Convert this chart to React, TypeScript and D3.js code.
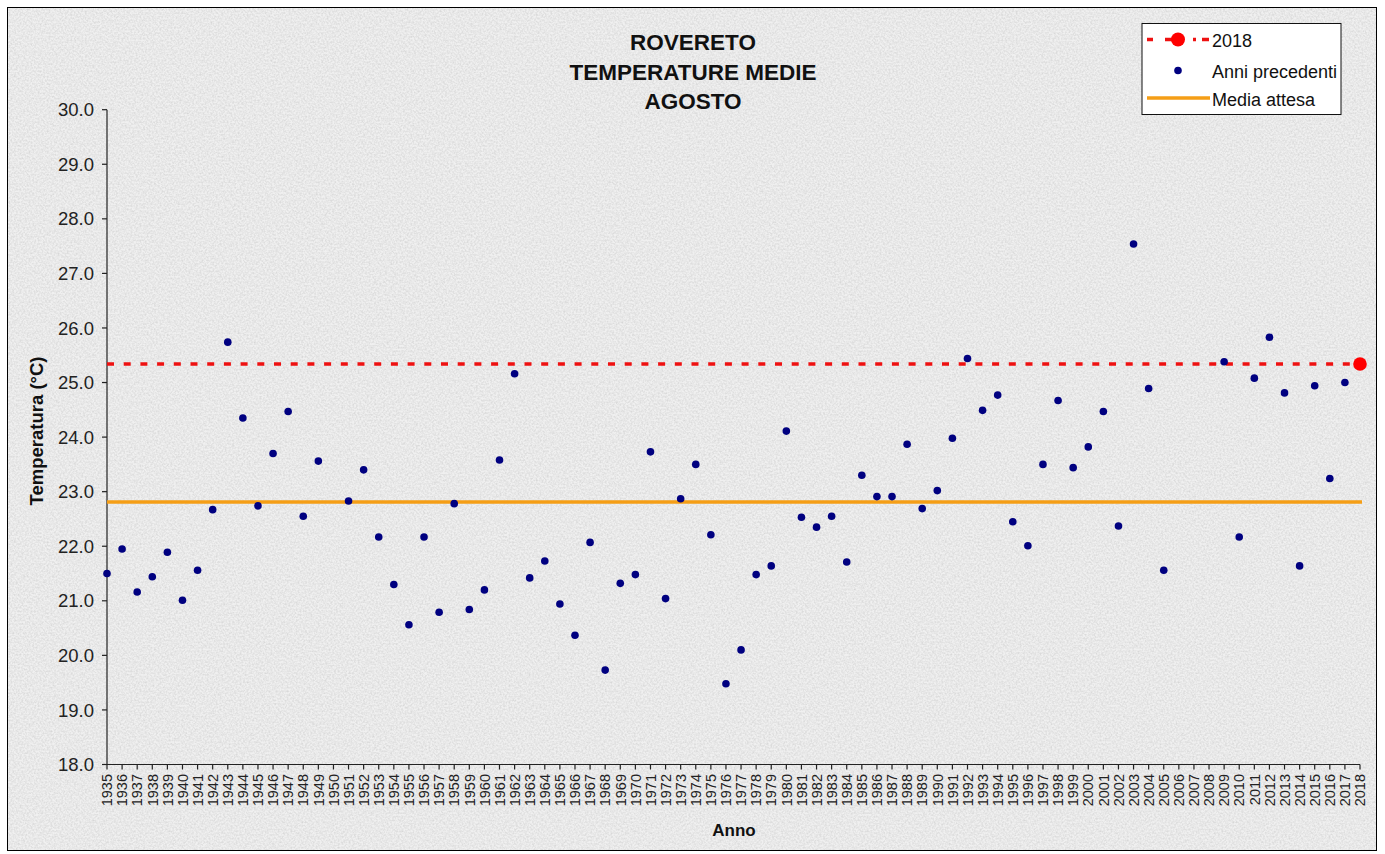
import React from "react";
import * as d3 from "d3";

const years: string[] = d3.range(1935, 2019).map((y) => String(y));
const prevTemps: (number | null)[] = [
  21.50, 21.95, 21.16, 21.44, 21.89, 21.01, 21.56, 22.67, 25.74, 24.35, // 1935-1944
  22.74, 23.70, 24.47, 22.55, 23.56, null, 22.83, 23.40, 22.17, 21.30, // 1945-1954
  20.56, 22.17, 20.79, 22.78, 20.84, 21.20, 23.58, 25.16, 21.42, 21.73, // 1955-1964
  20.94, 20.37, 22.07, 19.73, 21.32, 21.48, 23.73, 21.04, 22.87, 23.50, // 1965-1974
  22.21, 19.48, 20.10, 21.48, 21.64, 24.11, 22.53, 22.35, 22.55, 21.71, // 1975-1984
  23.30, 22.91, 22.91, 23.87, 22.69, 23.02, 23.98, 25.44, 24.49, 24.77, // 1985-1994
  22.45, 22.01, 23.50, 24.67, 23.44, 23.82, 24.47, 22.37, 27.54, 24.89, // 1995-2004
  21.56, null, null, null, 25.38, 22.17, 25.08, 25.83, 24.81, 21.64, // 2005-2014
  24.94, 23.24, 25.00, null, // 2015-2018
];
const value2018 = 25.34;
const mediaAttesa = 22.81;
const yTicks: number[] = d3.range(18, 30.001, 1);
const titleLines: string[] = ["ROVERETO", "TEMPERATURE MEDIE", "AGOSTO"];
const legendLabels: string[] = ["2018", "Anni precedenti", "Media attesa"];

const FONT = "'Liberation Sans', Arial, sans-serif";

export default function App() {
  const W = 1385;
  const H = 854;
  const x = d3.scalePoint<string>().domain(years).range([107, 1360]).padding(0);
  const y = d3.scaleLinear().domain([18, 30]).range([764.5, 109.7]);
  const x0 = x(years[0]) as number;
  const x1 = x(years[years.length - 1]) as number;
  const pts = years
    .map((yr, i) => ({ yr, v: prevTemps[i] }))
    .filter((d) => d.v !== null) as { yr: string; v: number }[];

  return (
    <svg
      width={W}
      height={H}
      style={{ position: "absolute", left: 0, top: 0 }}
      fontFamily={FONT}
    >
      <defs>
        <filter id="noise" x="0" y="0" width="100%" height="100%">
          <feTurbulence type="fractalNoise" baseFrequency="0.55" numOctaves="2" seed="7" />
          <feColorMatrix
            type="matrix"
            values="0 0 0 0 0.62  0 0 0 0 0.62  0 0 0 0 0.62  1.3 0 0 0 -0.42"
          />
        </filter>
      </defs>
      <rect x={0} y={0} width={W} height={H} fill="#ffffff" />
      <rect x={7.5} y={7.5} width={1369} height={843} fill="#f0f0f0" />
      <rect x={7.5} y={7.5} width={1369} height={843} fill="#000" filter="url(#noise)" />
      <rect x={7.5} y={7.5} width={1369} height={843} fill="none" stroke="#000" strokeWidth={1} />

      {/* Title */}
      {titleLines.map((t, i) => (
        <text
          key={t}
          x={693}
          y={50 + i * 29.5}
          textAnchor="middle"
          fontSize={22.5}
          fontWeight="bold"
          fill="#111"
        >
          {t}
        </text>
      ))}

      {/* Y axis */}
      <line x1={107} x2={107} y1={y(30)} y2={y(18)} stroke="#222" strokeWidth={1.2} />
      {yTicks.map((t) => (
        <g key={t}>
          <line x1={102} x2={107} y1={y(t)} y2={y(t)} stroke="#222" strokeWidth={1.2} />
          <text
            x={94}
            y={y(t)}
            dy="0.36em"
            textAnchor="end"
            fontSize={18.5}
            fill="#222"
          >
            {t.toFixed(1)}
          </text>
        </g>
      ))}
      <text
        transform={`translate(43,431) rotate(-90)`}
        textAnchor="middle"
        fontSize={18.5}
        fontWeight="bold"
        fill="#111"
      >
        Temperatura (°C)
      </text>

      {/* X axis */}
      <line x1={x0} x2={x1} y1={y(18)} y2={y(18)} stroke="#222" strokeWidth={1.2} />
      {years.map((yr) => {
        const xv = x(yr) as number;
        return (
          <g key={yr}>
            <line x1={xv} x2={xv} y1={y(18)} y2={y(18) + 5} stroke="#222" strokeWidth={1.2} />
            <text
              transform={`translate(${xv},774) rotate(-90)`}
              dy="0.36em"
              textAnchor="end"
              fontSize={14.5}
              fill="#222"
            >
              {yr}
            </text>
          </g>
        );
      })}
      <text x={734} y={836} textAnchor="middle" fontSize={17} fontWeight="bold" fill="#111">
        Anno
      </text>

      {/* Media attesa */}
      <line
        x1={x0}
        x2={x1 + 2}
        y1={y(mediaAttesa)}
        y2={y(mediaAttesa)}
        stroke="#F59E16"
        strokeWidth={3.5}
      />
      {/* 2018 line */}
      <line
        x1={x0}
        x2={x1}
        y1={y(value2018)}
        y2={y(value2018)}
        stroke="#ee1111"
        strokeWidth={3.5}
        strokeDasharray="7 9.7"
      />
      {/* previous years */}
      {pts.map((d) => (
        <circle key={d.yr} cx={x(d.yr) as number} cy={y(d.v)} r={3.8} fill="#000080" />
      ))}
      <circle cx={x1} cy={y(value2018)} r={6.8} fill="#ff0000" />

      {/* Legend */}
      <rect x={1142} y={23.5} width={199} height={91} fill="#ffffff" stroke="#111" strokeWidth={1} />
      <line x1={1147} x2={1209} y1={39.5} y2={39.5} stroke="#ee1111" strokeWidth={3.5} strokeDasharray="6 12 14 14 3" />
      <circle cx={1178} cy={39.5} r={7} fill="#ff0000" />
      <circle cx={1178} cy={70.5} r={3.8} fill="#000080" />
      <line x1={1147} x2={1210} y1={98} y2={98} stroke="#F59E16" strokeWidth={3.5} />
      {legendLabels.map((l, i) => (
        <text key={l} x={1212} y={[46.5, 77.5, 105.5][i]} fontSize={18} fill="#111">
          {l}
        </text>
      ))}
    </svg>
  );
}
